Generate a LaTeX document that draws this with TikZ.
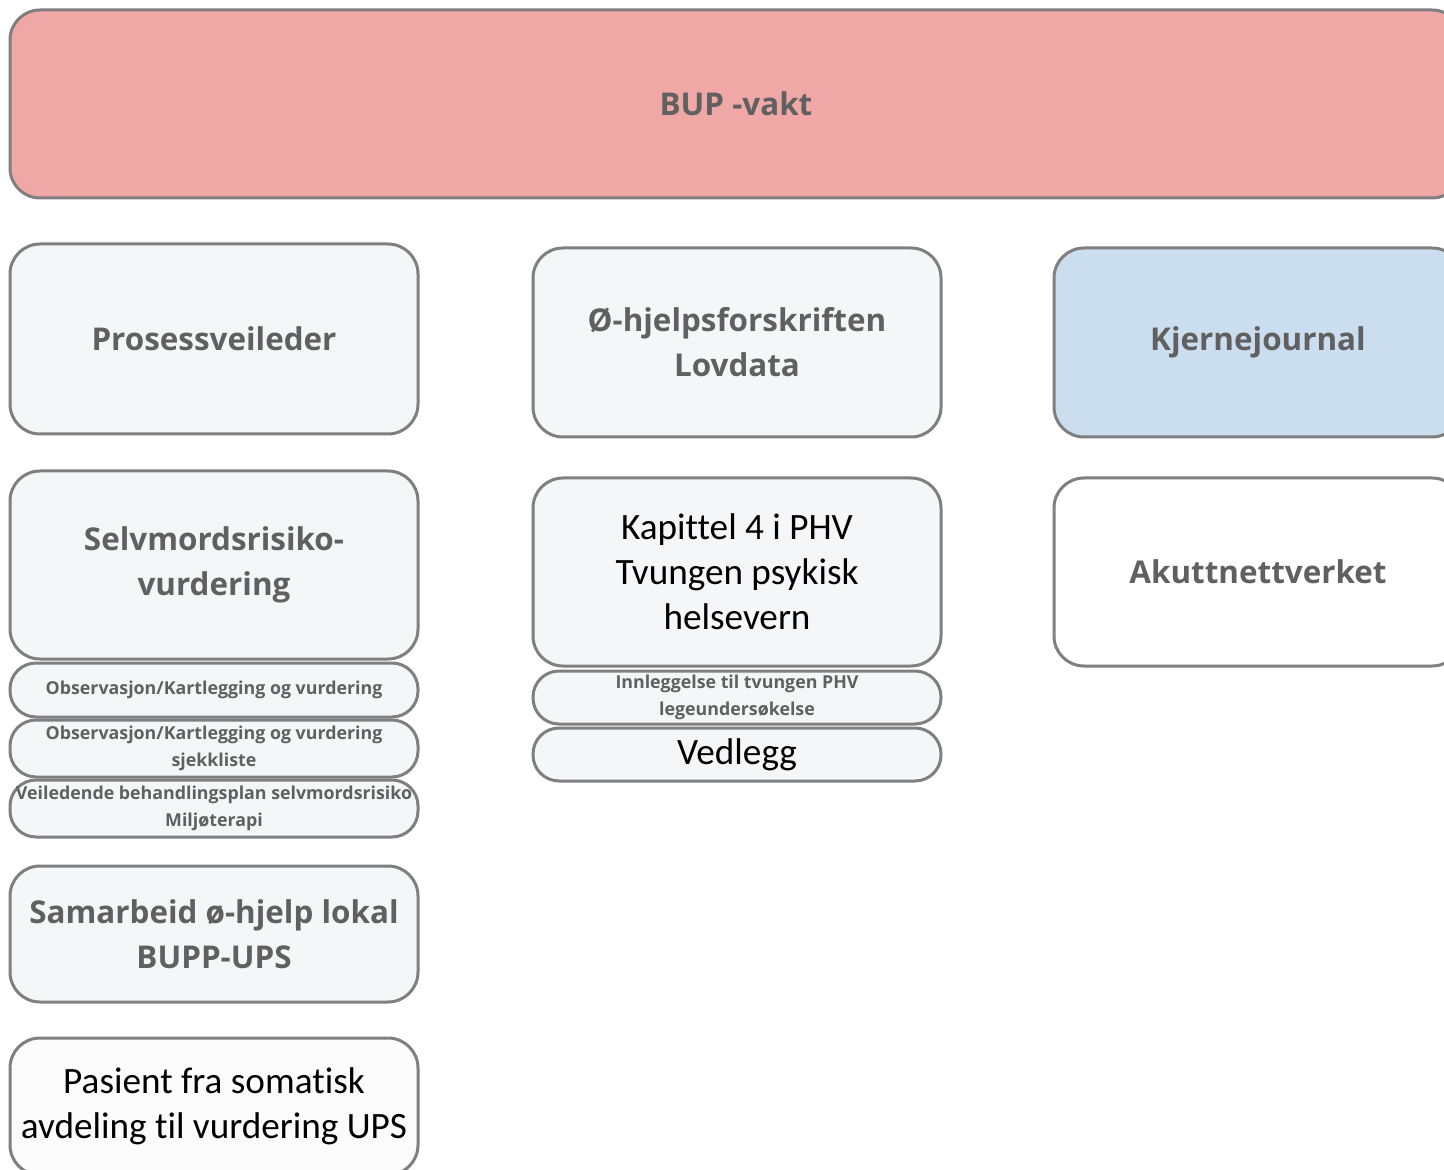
\documentclass[tikz,border=0pt]{standalone}
\usepackage{fontspec}
\setmainfont{Carlito}[Ligatures={NoCommon}]
\newfontfamily\headfont{Open Sans}
\definecolor{boxline}{HTML}{7F7F7F}
\definecolor{headgray}{HTML}{606060}
\definecolor{boxfill}{HTML}{F5F6F8}
\definecolor{vaktpink}{HTML}{F0A8A7}
\definecolor{journalblue}{HTML}{CADEEF}
\tikzset{
  card/.style={draw=boxline, line width=1.5pt, rounded corners=15pt, fill=boxfill,
    minimum width=204pt, align=center, inner sep=2pt},
  pill/.style={card, rounded corners=13pt},
  headtext/.style={font=\headfont\bfseries\fontsize{15.7}{22.5}\selectfont, text=headgray},
  smalltext/.style={font=\headfont\bfseries\fontsize{8.9}{13.2}\selectfont, text=headgray},
  plaintext/.style={font=\fontsize{18.6}{22.5}\selectfont, text=black}
}
\begin{document}
\begin{tikzpicture}[x=0.5pt, y=-0.5pt]
  \useasboundingbox (0, 0) rectangle (1444, 1170) ;
  \clip (0, 0) rectangle (1444, 1170) ;
  % top bar
  \node[card, headtext, fill=vaktpink, minimum width=726pt, minimum height=94pt] (vakt) at (736, 104) {BUP -vakt} ;
  % left column
  \node[card, headtext, minimum height=95pt] (prosess) at (214, 339) {Prosessveileder} ;
  \node[card, headtext, minimum height=94pt] (selvmord) at (214, 565) {Selvmordsrisiko-\\vurdering} ;
  \node[pill, smalltext, minimum height=27pt] (obs) at (214, 690) {Observasjon/Kartlegging og vurdering} ;
  \node[pill, smalltext, minimum height=28.5pt] (sjekk) at (214, 748.5) {Observasjon/Kartlegging og vurdering\\sjekkliste} ;
  \node[pill, smalltext, minimum height=28.5pt, inner sep=0pt] (plan) at (214, 808.5) {Veiledende behandlingsplan selvmordsrisiko\\Miljøterapi} ;
  \node[card, headtext, minimum height=68pt] (samarbeid) at (214, 934) {Samarbeid ø-hjelp lokal\\BUPP-UPS} ;
  \node[card, plaintext, minimum height=68.5pt, fill=white!60!boxfill] (somatisk) at (214, 1106.5) {Pasient fra somatisk\\avdeling til vurdering UPS} ;
  % middle column
  \node[card, headtext, minimum height=94.5pt] (forskrift) at (737, 342.5) {Ø-hjelpsforskriften\\Lovdata} ;
  \node[card, plaintext, minimum height=94pt] (kapittel) at (737, 572) {Kapittel 4 i PHV\\Tvungen psykisk\\helsevern} ;
  \node[pill, smalltext, minimum height=26.5pt] (innlegg) at (737, 697.5) {Innleggelse til tvungen PHV\\legeundersøkelse} ;
  \node[pill, plaintext, minimum height=26.5pt] (vedlegg) at (737, 754.5) {Vedlegg} ;
  % right column
  \node[card, headtext, fill=journalblue, minimum height=94.5pt] (kjerne) at (1258, 342.5) {Kjernejournal} ;
  \node[card, headtext, fill=white, minimum height=94pt] (akutt) at (1258, 572) {Akuttnettverket} ;
\end{tikzpicture}
\end{document}
